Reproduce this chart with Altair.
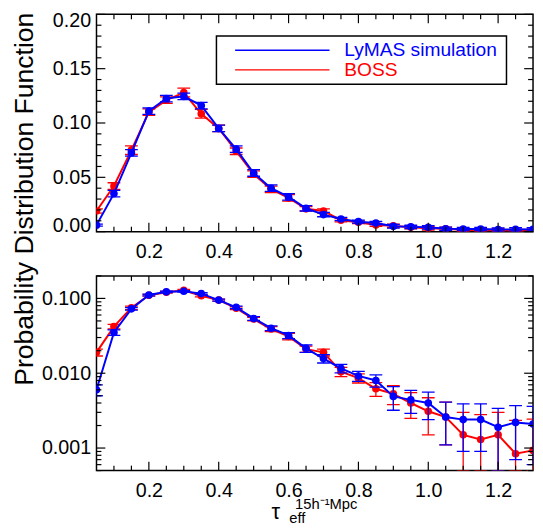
import altair as alt
import pandas as pd

# ---------------- data ----------------
tau = [0.05, 0.10, 0.15, 0.20, 0.25, 0.30, 0.35, 0.40, 0.45, 0.50, 0.55, 0.60, 0.65,
       0.70, 0.75, 0.80, 0.85, 0.90, 0.95, 1.00, 1.05, 1.10, 1.15, 1.20, 1.25, 1.30]

sim_pdf = [0.006, 0.035, 0.0725, 0.111, 0.1225, 0.1245, 0.116, 0.095, 0.076, 0.054, 0.040,
           0.032, 0.0215, 0.0157, 0.0116, 0.0092, 0.0080, 0.0049, 0.0044, 0.0040, 0.0026,
           0.0024, 0.0024, 0.0019, 0.0022, 0.0021]
sim_err = [0.001, 0.003, 0.003, 0.003, 0.003, 0.003, 0.003, 0.003, 0.003, 0.003, 0.003,
           0.003, 0.0025, 0.002, 0.0015, 0.0014, 0.0015, 0.0017, 0.0015, 0.0016, 0.0015,
           0.0015, 0.0015, 0.0015, 0.0015, 0.0015]

boss_pdf = [0.019, 0.042, 0.075, 0.110, 0.121, 0.128, 0.1085, 0.095, 0.074, 0.053, 0.039,
            0.031, 0.021, 0.019, 0.0105, 0.0086, 0.0062, 0.0053, 0.0040, 0.0031, 0.0026,
            0.0015, 0.0013, 0.0015, 0.00084, 0.00093]
boss_err = [0.002, 0.003, 0.004, 0.003, 0.003, 0.004, 0.004, 0.003, 0.003, 0.003, 0.003,
            0.003, 0.002, 0.002, 0.0015, 0.0012, 0.0013, 0.0015, 0.0015, 0.0016, 0.0015,
            0.0015, 0.0015, 0.0015, 0.0015, 0.0015]

series_names = ["LyMAS simulation", "BOSS"]
series_colors = ["#0000ff", "#ff0000"]

x_labels = [0.2, 0.4, 0.6, 0.8, 1.0, 1.2]
x_minor = [0.1, 0.15, 0.25, 0.3, 0.35, 0.45, 0.5, 0.55, 0.65, 0.7, 0.75, 0.85, 0.9, 0.95,
           1.05, 1.1, 1.15, 1.25]
lin_labels = [0.0, 0.05, 0.10, 0.15, 0.20]
lin_minor = [0.01, 0.02, 0.03, 0.04, 0.06, 0.07, 0.08, 0.09, 0.11, 0.12, 0.13, 0.14,
             0.16, 0.17, 0.18, 0.19]
log_labels = [0.001, 0.01, 0.1]
log_minor = [0.0005, 0.0006, 0.0007, 0.0008, 0.0009, 0.002, 0.003, 0.004, 0.005, 0.006,
             0.007, 0.008, 0.009, 0.02, 0.03, 0.04, 0.05, 0.06, 0.07, 0.08, 0.09, 0.2]

y_title = "Probability Distribution Function"

# ---------------- layout ----------------
W = 444
H_TOP, H_BOT = 221, 198
LOG_MIN, LOG_MAX = 0.0005, 0.2
FONT = "Liberation Sans"

rows = []
for name, vals, errs in [("BOSS", boss_pdf, boss_err), ("LyMAS simulation", sim_pdf, sim_err)]:
    for t, v, e in zip(tau, vals, errs):
        rows.append(dict(tau=t, pdf=v, lo=v - e, hi=v + e, series=name))
df = pd.DataFrame(rows)
df["lo_log"] = df["lo"].clip(lower=LOG_MIN)

xscale = alt.Scale(domain=[0.05, 1.3], nice=False, zero=False)
lin_scale = alt.Scale(domain=[0.0, 0.20], nice=False, zero=False)
log_scale = alt.Scale(type="log", domain=[LOG_MIN, LOG_MAX], nice=False)
color_of = dict(zip(series_names, series_colors))

x_axis = alt.Axis(values=x_labels, format=".1f", ticks=False, domain=False, grid=False,
                  title=None, labelPadding=10, labelFontSize=20)
lin_axis = alt.Axis(values=lin_labels, format=".2f", ticks=False, domain=False, grid=False,
                    title=None, labelPadding=6, labelFontSize=20, labelFlush=True,
                    labelFlushOffset=4)
log_axis = alt.Axis(values=log_labels, format=".3f", ticks=False, domain=False, grid=False,
                    title=None, labelPadding=6, labelFontSize=20, labelFlush=False)


def series_layers(yscale, yaxis, lo_field):
    out = []
    X = alt.X("tau:Q", scale=xscale, axis=x_axis)
    for name in ["BOSS", "LyMAS simulation"]:
        c = color_of[name]
        base = alt.Chart(df).transform_filter(alt.datum.series == name)
        bar = base.mark_rule(color=c, strokeWidth=1.3, clip=True).encode(
            x=X, y=alt.Y(f"{lo_field}:Q", scale=yscale, axis=yaxis), y2="hi:Q")
        cap_lo = base.mark_rule(color=c, strokeWidth=1.3, clip=True, xOffset=-6.5, x2Offset=6.5).encode(
            x=X, x2="tau:Q", y=alt.Y(f"{lo_field}:Q", scale=yscale, axis=yaxis))
        cap_hi = base.mark_rule(color=c, strokeWidth=1.3, clip=True, xOffset=-6.5, x2Offset=6.5).encode(
            x=X, x2="tau:Q", y=alt.Y("hi:Q", scale=yscale, axis=yaxis))
        line = base.mark_line(color=c, strokeWidth=2, clip=True).encode(
            x=X, y=alt.Y("pdf:Q", scale=yscale, axis=yaxis))
        pts = base.mark_circle(color=c, size=60, opacity=1, clip=True).encode(
            x=X, y=alt.Y("pdf:Q", scale=yscale, axis=yaxis))
        out += [bar, cap_lo, cap_hi, line, pts]
    return out


def tick_layers(yscale, yaxis, ymajor, yminor, H):
    out = []
    for vals, L in [(x_labels, 9), (x_minor, 5)]:
        d = alt.Chart(pd.DataFrame({"tau": vals}))
        X = alt.X("tau:Q", scale=xscale, axis=x_axis)
        out.append(d.mark_rule(color="black", strokeWidth=1.2).encode(
            x=X, y=alt.value(H), y2=alt.value(H - L)))
        out.append(d.mark_rule(color="black", strokeWidth=1.2).encode(
            x=X, y=alt.value(0), y2=alt.value(L)))
    for vals, L in [(ymajor, 9), (yminor, 5)]:
        d = alt.Chart(pd.DataFrame({"pdf": vals}))
        Y = alt.Y("pdf:Q", scale=yscale, axis=yaxis)
        out.append(d.mark_rule(color="black", strokeWidth=1.2).encode(
            y=Y, x=alt.value(0), x2=alt.value(L)))
        out.append(d.mark_rule(color="black", strokeWidth=1.2).encode(
            y=Y, x=alt.value(W), x2=alt.value(W - L)))
    return out


# legend (top panel)
legend_box = alt.Chart(pd.DataFrame({"a": [0]})).mark_rect(
    fill="white", stroke="black", strokeWidth=1.5).encode(
    x=alt.value(122), x2=alt.value(417), y=alt.value(22), y2=alt.value(71))
legend_layers = [legend_box]
for i, (name, c) in enumerate(zip(series_names, series_colors)):
    yy = 36.5 + 20 * i
    d = alt.Chart(pd.DataFrame({"label": [name]}))
    legend_layers.append(d.mark_rule(color=c, strokeWidth=1.3).encode(
        x=alt.value(141), x2=alt.value(237), y=alt.value(yy)))
    legend_layers.append(d.mark_text(color=c, fontSize=19.5, align="left", baseline="middle",
                                     font=FONT).encode(
        text="label:N", x=alt.value(252), y=alt.value(yy)))

ytitle_layer = alt.Chart(pd.DataFrame({"t": [y_title]})).mark_text(
    angle=270, fontSize=27, align="center", baseline="middle", font=FONT).encode(
    text="t:N", x=alt.value(-73), y=alt.value(188))

top = alt.layer(
    *series_layers(lin_scale, lin_axis, "lo"),
    *tick_layers(lin_scale, lin_axis, lin_labels, lin_minor, H_TOP),
    *legend_layers,
    ytitle_layer,
).properties(width=W, height=H_TOP)

xt = alt.Chart(pd.DataFrame({"a": ["τ"], "b": ["eff"], "c": ["15h⁻¹Mpc"]}))
xtitle_layers = [
    xt.mark_text(fontSize=22, align="left", baseline="alphabetic", font=FONT).encode(
        text="a:N", x=alt.value(178), y=alt.value(247)),
    xt.mark_text(fontSize=15, align="left", baseline="alphabetic", font=FONT).encode(
        text="b:N", x=alt.value(196), y=alt.value(251)),
    xt.mark_text(fontSize=15, align="left", baseline="alphabetic", font=FONT).encode(
        text="c:N", x=alt.value(202), y=alt.value(237)),
]

bottom = alt.layer(
    *series_layers(log_scale, log_axis, "lo_log"),
    *tick_layers(log_scale, log_axis, log_labels, log_minor, H_BOT),
    *xtitle_layers,
).properties(width=W, height=H_BOT)

chart = alt.vconcat(top, bottom, spacing=45, bounds="flush").properties(
    padding={"left": 2, "top": -3, "right": 0, "bottom": 0}
).configure(font=FONT).configure_axis(
    labelFont=FONT, labelColor="black", labelFontSize=20
).configure_view(stroke="black", strokeWidth=1.5)

chart.save("out.html", embed_options={"renderer": "svg", "actions": False})
